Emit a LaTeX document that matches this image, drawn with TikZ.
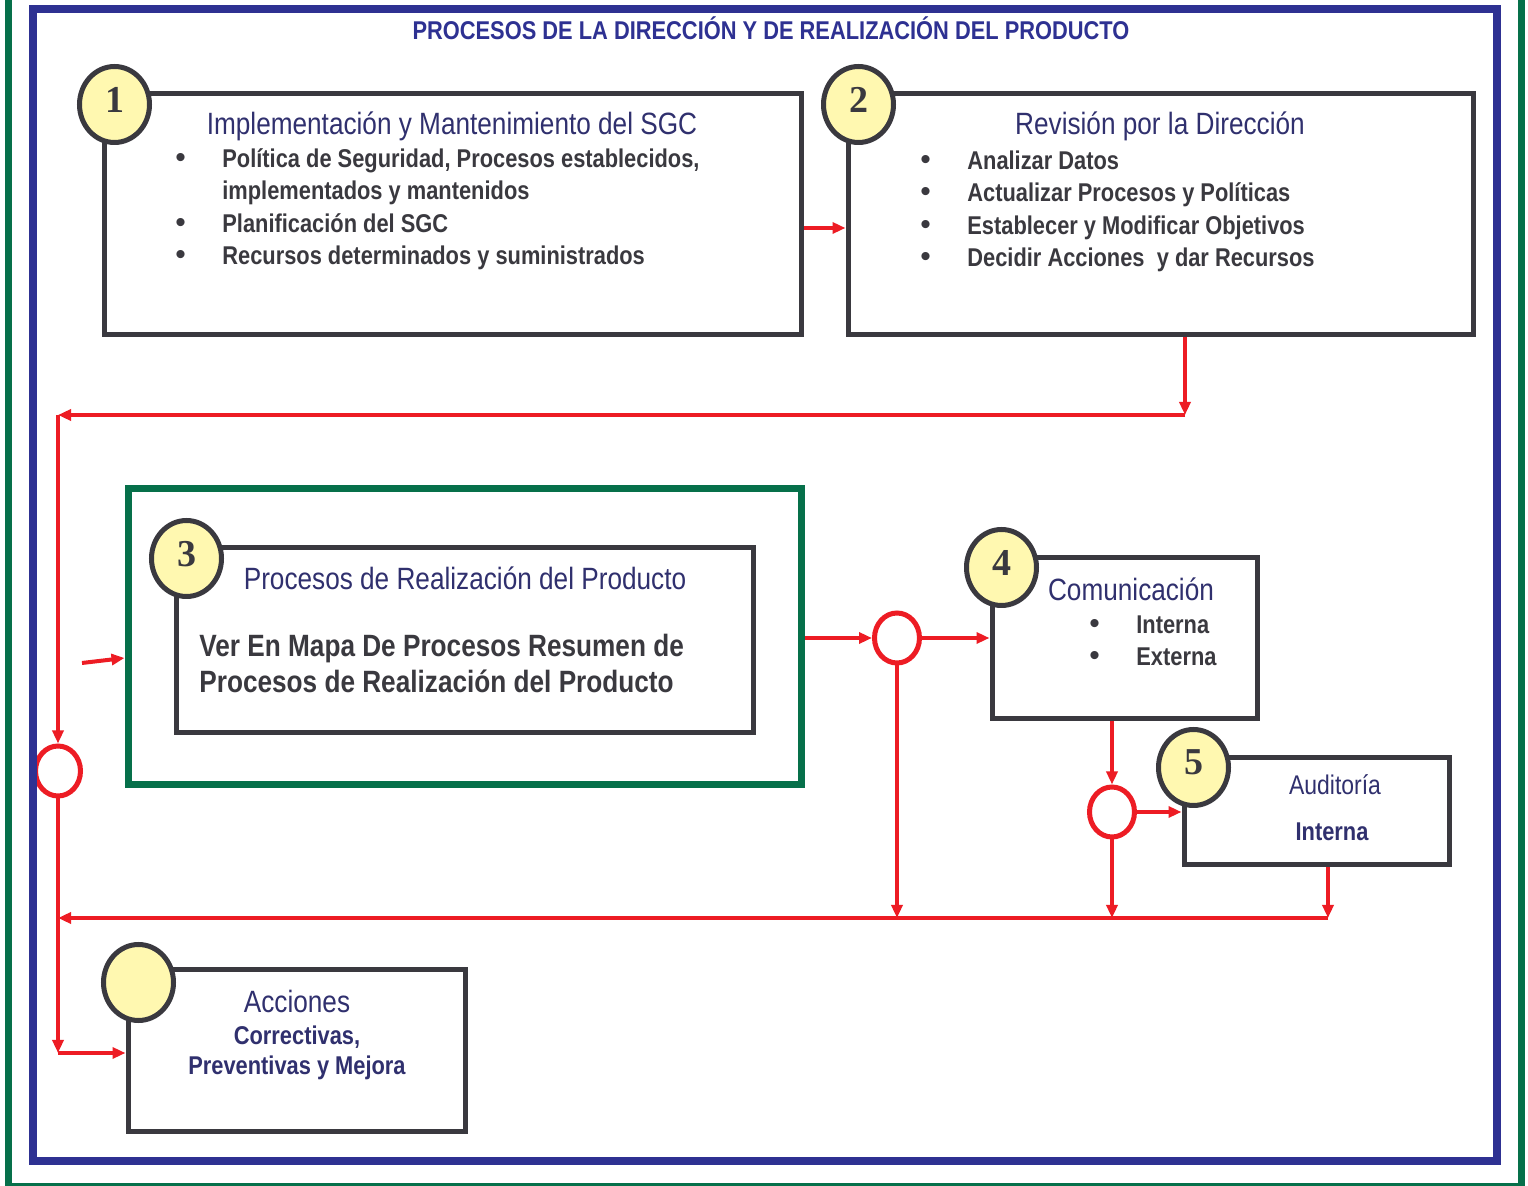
\documentclass[tikz,border=0pt]{standalone}
\usepackage{fontspec}
\setmainfont{Liberation Sans}
\newfontfamily\narrowfont[FakeStretch=0.85]{Liberation Sans}
\newfontfamily\digitfont{Liberation Serif}
\usetikzlibrary{positioning,fit,shapes.geometric,arrows.meta}
\definecolor{qblue}{RGB}{46,49,146}
\definecolor{qgreen}{RGB}{6,112,74}
\definecolor{qred}{RGB}{237,28,36}
\definecolor{qgray}{RGB}{58,57,63}
\definecolor{qyellow}{RGB}{255,248,176}
\definecolor{qnavy}{RGB}{48,48,110}
\newcommand{\bul}[1]{\makebox[23.5pt][l]{\normalfont\fontsize{15}{15}\selectfont\textbullet}#1}
\begin{document}
\begin{tikzpicture}[x=0.5pt,y=-0.5pt,
    procbox/.style={draw=qgray,line width=2.5pt,inner sep=0pt},
    numcirc/.style={ellipse,draw=qgray,line width=2.5pt,fill=qyellow,minimum width=35pt,minimum height=38pt,inner sep=0pt,text depth=5pt,text=qgray,font=\digitfont\bfseries\fontsize{19}{19}\selectfont},
    junction/.style={ellipse,draw=qred,line width=2.5pt,fill=white,minimum width=22.5pt,minimum height=25pt,inner sep=0pt},
    flow/.style={qred,line width=2pt,-{Triangle[length=6.5pt,width=5.5pt]}},
    heading/.style={inner sep=0pt,text=qnavy,font=\narrowfont\fontsize{15.4}{18}\selectfont},
    bullets/.style={inner sep=0pt,align=left,text=qgray,font=\narrowfont\bfseries\fontsize{12.85}{16.3}\selectfont}]
    \fill[white] (0,0) rectangle (1528,1186);
    \useasboundingbox (0,0) rectangle (1528,1186);

    \node[inner sep=0pt,text=qblue,font=\narrowfont\bfseries\fontsize{12.85}{14}\selectfont,anchor=base] (title) at (771,40) {PROCESOS DE LA DIRECCIÓN Y DE REALIZACIÓN DEL PRODUCTO};

    \node[procbox,fit={(104,94) (801,335)}] (b1) {};
    \node[procbox,fit={(848,94) (1473,335)}] (b2) {};
    \node[draw=qgreen,line width=3.5pt,inner sep=0pt,fit={(128,489) (801,785)}] (g3) {};
    \node[procbox,fit={(176,548) (753,733)}] (b3) {};
    \node[procbox,fit={(992,558) (1257,719)}] (b4) {};
    \node[procbox,fit={(1184,758) (1449,865)}] (b5) {};
    \node[procbox,fit={(128,970) (465,1132)}] (b6) {};

    \node[numcirc] (n1) at ([shift={(13,13)}]b1.north west) {1};
    \node[numcirc] (n2) at ([shift={(13,13)}]b2.north west) {2};
    \node[numcirc] (n3) at ([shift={(13,13)}]b3.north west) {3};
    \node[numcirc] (n4) at ([shift={(12,12)}]b4.north west) {4};
    \node[numcirc] (n5) at ([shift={(12,12)}]b5.north west) {5};
    \node[numcirc] (n6) at ([shift={(13,15)}]b6.north west) {};

    \node[heading,anchor=base] (h1) at (452,135) {Implementación y Mantenimiento del SGC};
    \node[bullets,anchor=base west] (l1) at (175,265) {\bul{Política de Seguridad, Procesos establecidos,}\\
        \hspace*{23.5pt}implementados y mantenidos\\
        \bul{Planificación del SGC}\\
        \bul{Recursos determinados y suministrados}};

    \node[heading,anchor=base] (h2) at (1160,135) {Revisión por la Dirección};
    \node[bullets,anchor=base west] (l2) at (920,267) {\bul{Analizar Datos}\\
        \bul{Actualizar Procesos y Políticas}\\
        \bul{Establecer y Modificar Objetivos}\\
        \bul{Decidir Acciones\ \ y dar Recursos}};

    \node[heading,anchor=base] (h3) at (465,590) {Procesos de Realización del Producto};
    \node[bullets,anchor=base west,font=\narrowfont\bfseries\fontsize{15.4}{18}\selectfont] (l3) at (199,693) {Ver En Mapa De Procesos Resumen de\\
        Procesos de Realización del Producto};

    \node[heading,anchor=base] (h4) at (1131,601) {Comunicación};
    \node[bullets,anchor=base west] (l4) at (1089,666) {\bul{Interna}\\ \bul{Externa}};

    \node[heading,anchor=base,font=\narrowfont\fontsize{13.5}{16}\selectfont] (h5) at (1335,795) {Auditoría};
    \node[bullets,anchor=base,text=qnavy] (l5) at (1332,841) {Interna};

    \node[heading,anchor=base] (h6) at (297,1013) {Acciones};
    \node[bullets,anchor=base,align=center,text=qnavy,font=\narrowfont\bfseries\fontsize{12.85}{15}\selectfont] (l6) at (297,1075) {Correctivas,\\ Preventivas y Mejora};

    \node[junction] (jL) at (58,771) {};
    \node[junction] (jA) at (897,638) {};
    \node[junction] (jB) at (1112,812) {};

    \coordinate (c1) at (1185,415);
    \coordinate (c2) at (58,415);
    \coordinate (c3) at (58,1053);
    \coordinate (c4) at (82,663);
    \coordinate (c5) at (58,918);
    \coordinate (c6) at (1328,918);

    \path[flow]
        (b1.east |- 0,228) edge (b2.west |- 0,228)
        (b2.south -| c1) edge (c1)
        (c1) edge (c2)
        (c2) edge (jL)
        (jL) edge (c3)
        (c3) edge (b6.west |- c3)
        (c4) edge (g3.west |- 0,658)

        (g3.east |- jA) edge (jA)
        (jA) edge (b4.west |- jA)
        (jA) edge (jA |- c5)

        (b4.south -| jB) edge (jB)
        (jB) edge (b5.west |- jB)
        (jB) edge (jB |- c5)

        (b5.south -| c6) edge (c6)
        (c6) edge (c5)
    ;

    \draw[qgreen,line width=3.5pt] (8.5,-20) rectangle (1521,1187);
    \draw[qblue,line width=4pt] (33,9) rectangle (1497,1161);
\end{tikzpicture}
\end{document}
